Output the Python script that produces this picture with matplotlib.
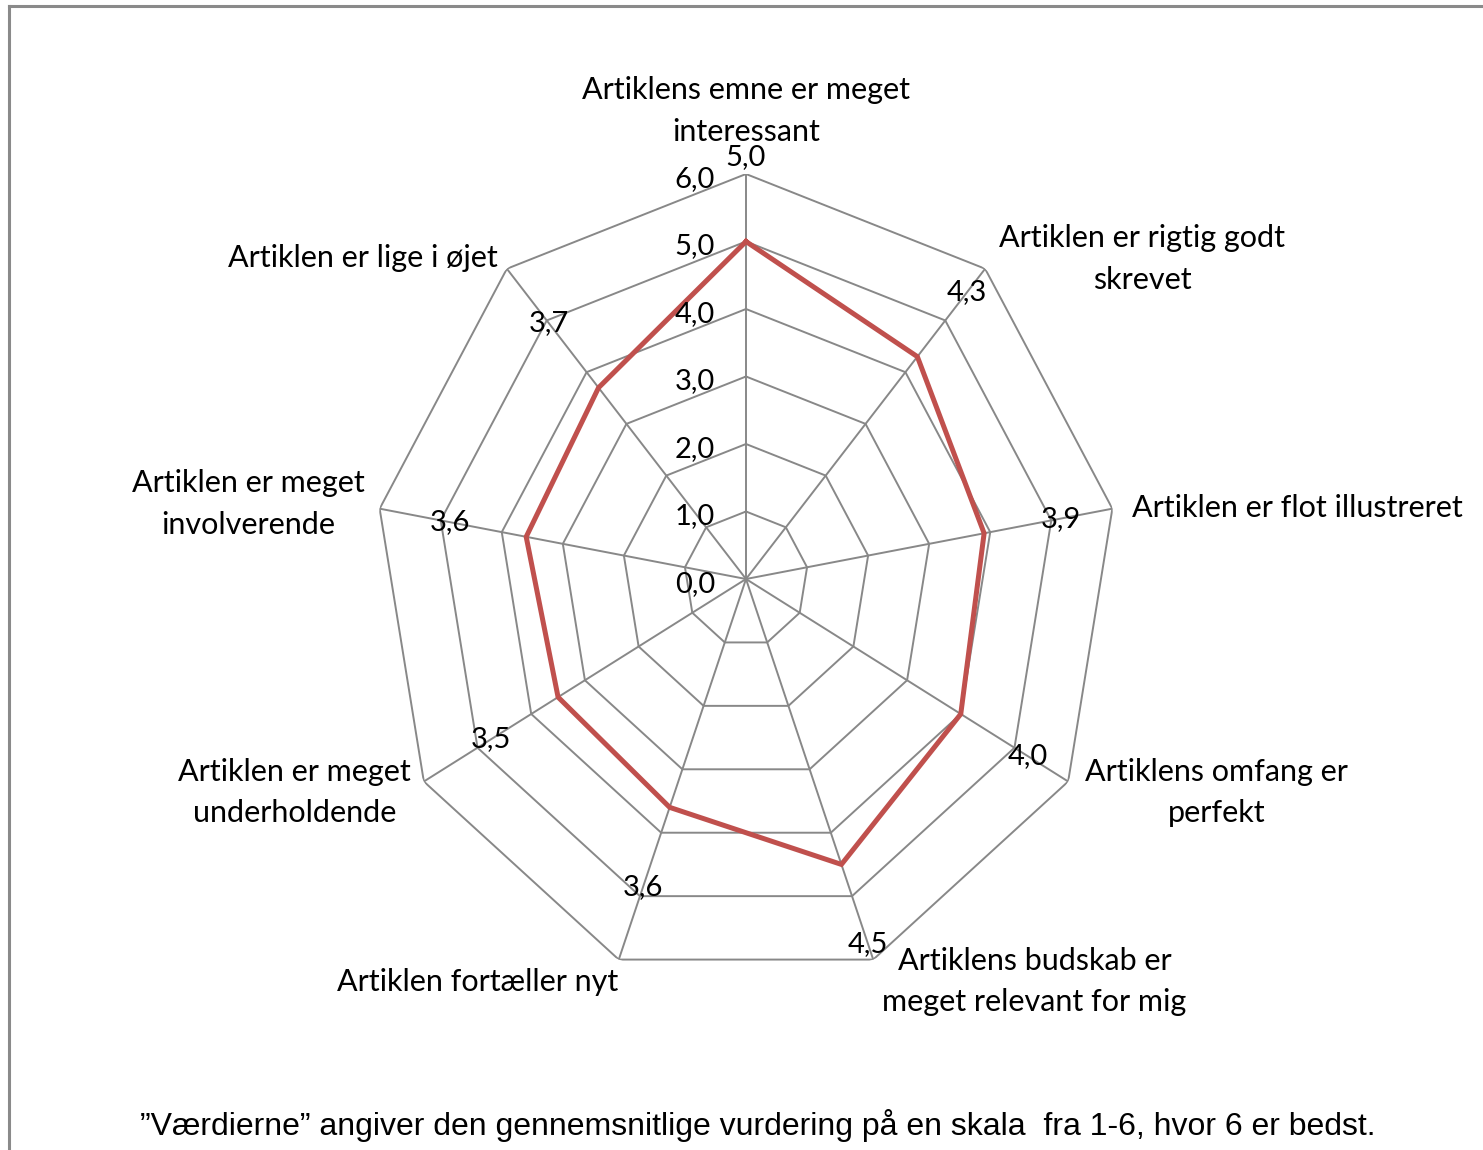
import numpy as np
import matplotlib
matplotlib.use("Agg")
import matplotlib.pyplot as plt
from matplotlib.lines import Line2D

categories = [
    "Artiklens emne er meget\ninteressant",
    "Artiklen er rigtig godt\nskrevet",
    "Artiklen er flot illustreret",
    "Artiklens omfang er\nperfekt",
    "Artiklens budskab er\nmeget relevant for mig",
    "Artiklen fortæller nyt",
    "Artiklen er meget\nunderholdende",
    "Artiklen er meget\ninvolverende",
    "Artiklen er lige i øjet",
]
values = [5.0, 4.3, 3.9, 4.0, 4.5, 3.6, 3.5, 3.6, 3.7]
ticks = [0, 1, 2, 3, 4, 5, 6]
footer = "\u201dVærdierne\u201d angiver den gennemsnitlige vurdering på en skala  fra 1-6, hvor 6 er bedst."

# label placement (offset pixels from outer vertex)
lab_dx = [0, 14, 20, 17, 9, -1, -13, -15, -9]
lab_dy = [63, 10, 1, -11, -22, -22, -11, 5, 11]

W, H = 1483, 1150
fig = plt.figure(figsize=(W / 100, H / 100), dpi=100)
ax = fig.add_axes([374 / W, 166 / H, 744 / W, 810 / H], projection="polar")
ax.set_aspect("auto")
ax.set_theta_zero_location("N")
ax.set_theta_direction(-1)
ax.set_ylim(0, 6)
ax.grid(False)
ax.set_xticks([])
ax.set_yticks([])
ax.spines["polar"].set_visible(False)
ax.patch.set_visible(False)

n = len(categories)
theta = np.arange(n) * 2 * np.pi / n
closed = np.append(theta, theta[0])
grid_col = "#888888"

for t in ticks[1:]:
    ax.plot(closed, [t] * (n + 1), color=grid_col, lw=1.4, zorder=1)
for th in theta:
    ax.plot([th, th], [0, ticks[-1]], color=grid_col, lw=1.4, zorder=1)

ax.plot(closed, values + values[:1], color="#C0504D", lw=3.6, zorder=3,
        solid_joinstyle="miter")

font = "Lato"
fs_num = 21
fs_cat = 22

for t in ticks:
    ax.annotate(f"{t:.1f}".replace(".", ","), xy=(0, t), xytext=(-31, -5),
                textcoords="offset pixels", ha="right", va="center",
                fontsize=fs_num, family=font, annotation_clip=False)

for th, v in zip(theta, values):
    ax.text(th, v + 1.25, f"{v:.1f}".replace(".", ","), ha="center", va="center",
            fontsize=fs_num, family=font, zorder=4)

for i, (th, lab) in enumerate(zip(theta, categories)):
    s = np.sin(th)
    ha = "center" if abs(s) < 0.1 else ("left" if s > 0 else "right")
    ax.annotate(lab, xy=(th, ticks[-1]), xytext=(lab_dx[i], lab_dy[i]),
                textcoords="offset pixels", ha=ha, va="center",
                multialignment="center", fontsize=fs_cat, family=font,
                linespacing=1.6, annotation_clip=False)

fig.text(758 / W, 1 - 1125 / H, footer, ha="center", va="center",
         fontsize=23, family="Liberation Sans")

# chart frame (only top and left edges visible)
x0, y0 = 8.5 / W, 1 - 5.5 / H
fig.add_artist(Line2D([x0, 1], [y0, y0], color="#8a8a8a", lw=2.2))
fig.add_artist(Line2D([x0, x0], [0, y0], color="#8a8a8a", lw=2.2))

fig.savefig("out.png", dpi=100)
